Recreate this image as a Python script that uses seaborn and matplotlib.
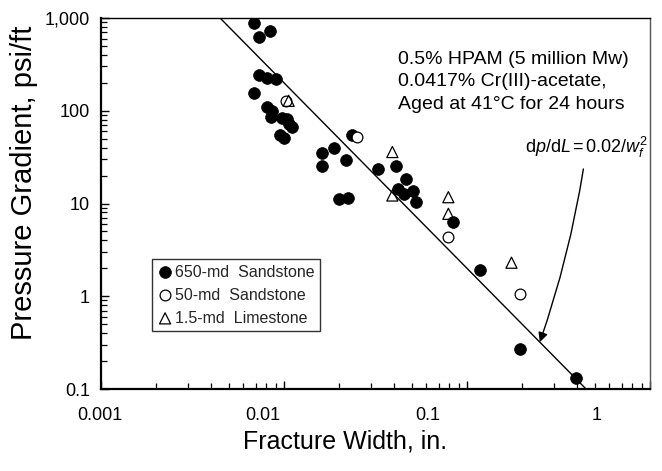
import numpy as np
import pandas as pd
import matplotlib
matplotlib.use("Agg")
import matplotlib.pyplot as plt
import matplotlib.transforms as mtransforms
import seaborn as sns

# ---- data (fracture width in., pressure gradient psi/ft)
w_650 = [0.00686, 0.00837, 0.00729, 0.00729, 0.00804, 0.00901, 0.00686, 0.00810,
         0.00857, 0.00851, 0.00971, 0.0104, 0.0107, 0.0111, 0.00951, 0.0100,
         0.0162, 0.01875, 0.0162, 0.0218, 0.0200, 0.0223, 0.0234, 0.0327,
         0.0409, 0.0465, 0.0422, 0.0453, 0.0509, 0.0525, 0.0841, 0.1178,
         0.195, 0.393]
dp_650 = [889, 724, 618, 242, 226, 219, 157, 110,
          99.5, 85.7, 84.4, 80.9, 72.7, 66.8, 54.3, 51.3,
          35.3, 40.0, 25.1, 29.2, 11.2, 11.5, 54.3, 23.3,
          25.6, 18.5, 14.4, 12.7, 13.6, 10.3, 6.28, 1.93,
          0.269, 0.131]
w_50 = [0.0102, 0.0252, 0.0791, 0.195]
dp_50 = [128, 52.1, 4.32, 1.06]
w_15 = [0.0106, 0.0391, 0.0391, 0.0791, 0.0791, 0.175]
dp_15 = [128, 35.9, 12.2, 11.7, 7.74, 2.30]

labels = ["650-md  Sandstone", "50-md  Sandstone", "1.5-md  Limestone"]
xtick_vals = [0.001, 0.01, 0.1, 1]
xtick_labels = ["0.001", "0.01", "0.1", "1"]
ytick_vals = [0.1, 1, 10, 100, 1000]
ytick_labels = ["0.1", "1", "10", "100", "1,000"]

sns.set_theme(style="ticks")
plt.rcParams["font.family"] = ["Liberation Sans", "DejaVu Sans"]
plt.rcParams["mathtext.fontset"] = "custom"
plt.rcParams["mathtext.rm"] = "Liberation Sans"
plt.rcParams["mathtext.it"] = "Liberation Sans:italic"

fig = plt.figure(figsize=(6.62, 4.71), dpi=100)
ax = fig.add_axes([101 / 662, 1 - 389 / 471, 549 / 662, 371 / 471])

# model line dp/dL = 0.02 / w^2
wl = np.logspace(-3, 0, 60)
sns.lineplot(x=wl, y=0.02 / wl ** 2, ax=ax, color="black", lw=1.0, zorder=1)

sns.scatterplot(x=w_650, y=dp_650, ax=ax, marker="o", s=72, color="black",
                edgecolor="black", linewidth=0.5, label=labels[0], zorder=3)
sns.scatterplot(x=w_50, y=dp_50, ax=ax, marker="o", s=60, facecolor="white",
                edgecolor="black", linewidth=0.9, label=labels[1], zorder=3)
sns.scatterplot(x=w_15, y=dp_15, ax=ax, marker="^", s=64, facecolor="none",
                edgecolor="black", linewidth=0.9, label=labels[2], zorder=4)

ax.set_xscale("log")
ax.set_yscale("log")
ax.set_xlim(0.001, 1)
ax.set_ylim(0.1, 1000)

ax.set_xticks(xtick_vals)
ax.set_xticklabels(xtick_labels)
ax.set_yticks(ytick_vals)
ax.set_yticklabels(ytick_labels)
ax.tick_params(which="major", direction="in", length=6, width=1, labelsize=13,
               top=False, right=False, color="black", labelcolor="black")
ax.tick_params(axis="x", which="major", pad=13)
ax.tick_params(axis="y", which="major", pad=8)
ax.tick_params(which="minor", direction="in", length=4.5, width=0.9,
               top=False, right=False, color="black")

# tick labels in the original sit left of their ticks
for lab, dx in zip(ax.get_xticklabels(), [-1, -21, -39, -53]):
    lab.set_transform(lab.get_transform() +
                      mtransforms.ScaledTranslation(dx / 100, 0, fig.dpi_scale_trans))

for s in ["left", "bottom"]:
    ax.spines[s].set_linewidth(1.6)
    ax.spines[s].set_color("black")
ax.spines["top"].set_linewidth(1.0)
ax.spines["top"].set_color("black")
ax.spines["right"].set_linewidth(1.0)
ax.spines["right"].set_color("#555555")
ax.spines["top"].set_visible(True)
ax.spines["right"].set_visible(True)

ax.set_xlabel("Fracture Width, in.", fontsize=18, color="black")
ax.set_ylabel("Pressure Gradient, psi/ft", fontsize=21, color="black")
ax.xaxis.set_label_coords(0.444, -0.11)
ax.yaxis.set_label_coords(-0.115, 0.555)

leg = ax.legend(loc="lower left", bbox_to_anchor=(0.092, 0.156), borderaxespad=0,
                fontsize=11.5, frameon=True, fancybox=False, edgecolor="black",
                handletextpad=0.1, handlelength=1.0, labelspacing=0.5,
                borderpad=0.35)
leg.get_frame().set_linewidth(1.0)

ax.text(0.541, 0.912, "0.5% HPAM (5 million Mw)\n0.0417% Cr(III)-acetate,\nAged at 41°C for 24 hours",
        transform=ax.transAxes, ha="left", va="top", fontsize=14, linespacing=1.42,
        color="black")

ax.annotate(r"d$p$/d$L\,$=$\,$0.02/$w_f^2$", xy=(0.25, 0.32), xytext=(0.45, 40),
            ha="center", va="center", fontsize=13, color="black",
            arrowprops=dict(arrowstyle="-|>", color="black", lw=1.0,
                            shrinkA=4, shrinkB=0, mutation_scale=14,
                            connectionstyle="arc3,rad=-0.05"))

fig.savefig("out.png", dpi=100, facecolor="white")
